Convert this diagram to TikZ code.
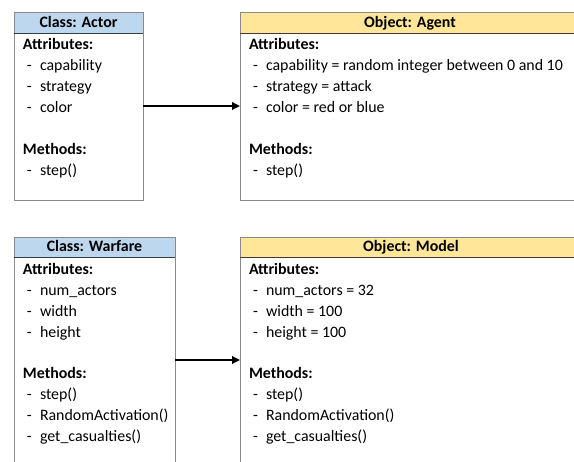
\documentclass[tikz,border=0pt]{standalone}
\usepackage{fontspec}
\setmainfont{Carlito}
\usetikzlibrary{arrows.meta}
\definecolor{bord}{HTML}{8A8A8A}
\definecolor{hdline}{HTML}{3A3A3A}
\definecolor{clsblue}{HTML}{BDD7EE}
\definecolor{objyellow}{HTML}{FFE699}
\tikzset{
  umlbox/.style={draw=bord, line width=0.9pt, fill=white, anchor=north west, inner sep=0pt, outer sep=0pt},
  umlhead/.style={draw=bord, line width=0.9pt, anchor=north west, inner sep=0pt, outer sep=0pt, minimum height=21pt},
  txt/.style={anchor=base west, inner sep=0pt, outer sep=0pt, font=\fontsize{15.9}{21}\selectfont},
  headtxt/.style={anchor=base, inner sep=0pt, outer sep=0pt, font=\fontsize{15.9}{21}\selectfont\bfseries},
  secttxt/.style={txt, font=\fontsize{15.9}{21}\selectfont\bfseries},
  link/.style={line width=1.8pt, -{Triangle[length=8pt,width=7.5pt]}}
}
\newcommand\itm[4]{%
  \node[txt] (#1d) at (#2+13,#3) {-};
  \node[txt] (#1) at (#2+26,#3) {#4};}
\begin{document}
\begin{tikzpicture}[x=1pt,y=-1pt]
\clip (0,0) rectangle (574,462);
\fill[white] (0,0) rectangle (574,462);

% ---- Class: Actor ----
\node[umlbox, minimum width=129pt, minimum height=188pt] (actor) at (14,12) {};
\node[umlhead, fill=clsblue, minimum width=129pt] (actorh) at (14,12) {};
\draw[hdline, line width=0.9pt] (actorh.south west) -- (actorh.south east);
\node[headtxt] (actort) at (78.5,28) {Class: Actor};
\node[secttxt] (actora) at (23,49.5) {Attributes:};
\itm{ac1}{14}{70.5}{capability}
\itm{ac2}{14}{91.5}{strategy}
\itm{ac3}{14}{112.5}{color}
\node[secttxt] (actorm) at (23,154.5) {Methods:};
\itm{ac4}{14}{175.5}{step()}

% ---- Object: Agent ----
\node[umlbox, minimum width=340pt, minimum height=188pt] (agent) at (240,12) {};
\node[umlhead, fill=objyellow, minimum width=340pt] (agenth) at (240,12) {};
\draw[hdline, line width=0.9pt] (agenth.south west) -- (agenth.south east);
\node[headtxt] (agentt) at (410,28) {Object: Agent};
\node[secttxt] (agenta) at (249,49.5) {Attributes:};
\itm{ag1}{240}{70.5}{capability = random integer between 0 and 10}
\itm{ag2}{240}{91.5}{strategy = attack}
\itm{ag3}{240}{112.5}{color = red or blue}
\node[secttxt] (agentm) at (249,154.5) {Methods:};
\itm{ag4}{240}{175.5}{step()}

% ---- Class: Warfare ----
\node[umlbox, minimum width=161pt, minimum height=246pt] (warfare) at (14,237) {};
\node[umlhead, fill=clsblue, minimum width=161pt, minimum height=20pt] (warfareh) at (14,237) {};
\draw[hdline, line width=0.9pt] (warfareh.south west) -- (warfareh.south east);
\node[headtxt] (warfaret) at (94.5,252) {Class: Warfare};
\node[secttxt] (warfarea) at (23,274.5) {Attributes:};
\itm{wf1}{14}{295.5}{num\_actors}
\itm{wf2}{14}{316.5}{width}
\itm{wf3}{14}{337.5}{height}
\node[secttxt] (warfarem) at (23,379) {Methods:};
\itm{wf4}{14}{400}{step()}
\itm{wf5}{14}{421}{RandomActivation()}
\itm{wf6}{14}{442}{get\_casualties()}

% ---- Object: Model ----
\node[umlbox, minimum width=340pt, minimum height=246pt] (model) at (240,237) {};
\node[umlhead, fill=objyellow, minimum width=340pt, minimum height=20pt] (modelh) at (240,237) {};
\draw[hdline, line width=0.9pt] (modelh.south west) -- (modelh.south east);
\node[headtxt] (modelt) at (411,252) {Object: Model};
\node[secttxt] (modela) at (249,274.5) {Attributes:};
\itm{md1}{240}{295.5}{num\_actors = 32}
\itm{md2}{240}{316.5}{width = 100}
\itm{md3}{240}{337.5}{height = 100}
\node[secttxt] (modelm) at (249,379) {Methods:};
\itm{md4}{240}{400}{step()}
\itm{md5}{240}{421}{RandomActivation()}
\itm{md6}{240}{442}{get\_casualties()}

% ---- connectors ----
\draw[link] (actor.east) -- (agent.west);
\draw[link] (warfare.east) -- (model.west);
\end{tikzpicture}
\end{document}
